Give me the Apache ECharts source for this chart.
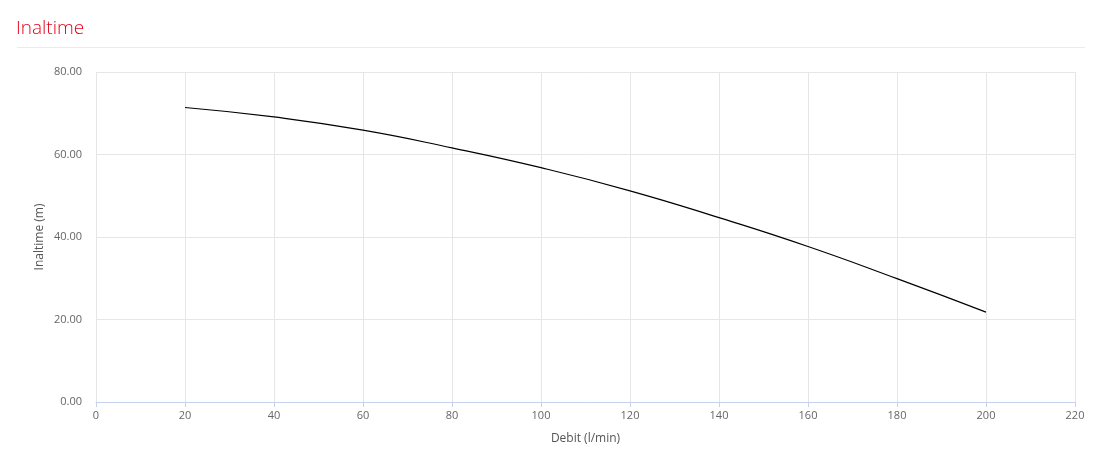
<!DOCTYPE html>
<html>
<head>
<meta charset="utf-8">
<script src="https://cdn.jsdelivr.net/npm/echarts@6/dist/echarts.min.js"></script>
<style>
html,body{margin:0;padding:0;background:#fff;}
#c{width:1098px;height:474px;}
</style>
</head>
<body>
<div id="c"></div>
<script>
const titleText = 'Inaltime';
const xName = 'Debit (l/min)';
const yName = 'Inaltime (m)';
const debit = [20, 40, 60, 80, 100, 120, 140, 160, 180, 200];
const inaltime = [71.4, 69.1, 65.9, 61.6, 56.8, 51.2, 44.7, 37.7, 29.9, 21.8];

const chart = echarts.init(document.getElementById('c'));
const font = '"Open Sans", sans-serif';
chart.setOption({
  animation: false,
  backgroundColor: '#fff',
  title: {
    text: titleText,
    left: 11,
    top: 14,
    textStyle: { color: '#e2001a', fontSize: 19, fontWeight: 300, fontFamily: font }
  },
  graphic: [{
    type: 'line',
    shape: { x1: 17, y1: 47.5, x2: 1085, y2: 47.5 },
    style: { stroke: '#ebebeb', lineWidth: 1 }
  }],
  grid: { left: 96, right: 23, top: 72, bottom: 72, containLabel: false },
  xAxis: {
    type: 'value',
    min: 0, max: 220, interval: 20,
    name: xName,
    nameLocation: 'middle',
    nameGap: 31,
    nameMoveOverlap: false,
    nameTextStyle: { color: '#555', fontSize: 12, fontFamily: font },
    axisLine: { show: true, lineStyle: { color: '#c5d3ec' } },
    axisTick: { show: true, length: 5, lineStyle: { color: '#c5d3ec' } },
    axisLabel: { color: '#666', fontSize: 11, fontFamily: font, margin: 8 },
    splitLine: { show: true, lineStyle: { color: '#e6e6e6' } }
  },
  yAxis: {
    type: 'value',
    min: 0, max: 80, interval: 20,
    name: yName,
    nameLocation: 'middle',
    nameGap: 50,
    nameMoveOverlap: false,
    nameTextStyle: { color: '#555', fontSize: 12, fontFamily: font },
    axisLine: { show: false },
    axisTick: { show: false },
    axisLabel: { color: '#666', fontSize: 11, fontFamily: font, margin: 14,
      formatter: v => v.toFixed(2) },
    splitLine: { show: true, lineStyle: { color: '#e6e6e6' } }
  },
  series: [{
    type: 'line',
    data: debit.map((d, i) => [d, inaltime[i]]),
    smooth: true,
    showSymbol: false,
    lineStyle: { color: '#000', width: 1.2 },
    itemStyle: { color: '#000' }
  }]
});
</script>
</body>
</html>
